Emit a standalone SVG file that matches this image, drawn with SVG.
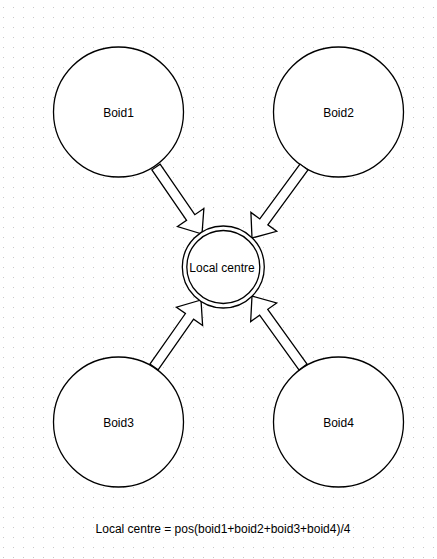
<svg xmlns="http://www.w3.org/2000/svg" width="437" height="559" viewBox="0 0 437 559">
<style>
.node{fill:#fff;stroke:#000;stroke-width:1.3}
.arrow{fill:#fff;stroke:#000;stroke-width:1.3;stroke-linejoin:miter}
.lbl{font-family:"Liberation Sans",Arial,sans-serif;font-size:12px;fill:#000;text-anchor:middle}
</style>
<defs>
<pattern id="grid" x="3" y="7" width="10" height="10" patternUnits="userSpaceOnUse">
<rect x="0" y="0" width="1" height="1" fill="#c8c8c8"/>
</pattern>
</defs>
<rect width="437" height="559" fill="#fff"/>
<rect width="437" height="559" fill="url(#grid)"/>
<g id="boid1"><circle class="node" cx="118.5" cy="112" r="65"/><text class="lbl" x="118.5" y="116.5">Boid1</text></g>
<g id="boid2"><circle class="node" cx="338.5" cy="112" r="65"/><text class="lbl" x="338.5" y="116.5">Boid2</text></g>
<g id="boid3"><circle class="node" cx="118.5" cy="422" r="65"/><text class="lbl" x="118.5" y="426.5">Boid3</text></g>
<g id="boid4"><circle class="node" cx="338.5" cy="422" r="65"/><text class="lbl" x="338.5" y="426.5">Boid4</text></g>
<g id="connectors">
<polygon class="arrow" points="160.12,164.17 194.80,214.68 203.87,208.45 202,234 177.49,226.57 186.56,220.34 151.88,169.83"/>
<polygon class="arrow" points="308.03,169.95 267.85,224.81 276.73,231.31 252,238 250.91,212.41 259.79,218.91 299.97,164.05"/>
<polygon class="arrow" points="158.09,369.87 193.60,319.24 202.61,325.56 201,300 176.41,307.18 185.42,313.50 149.91,364.13"/>
<polygon class="arrow" points="307.06,364.08 267.73,309.32 276.67,302.91 252,296 250.67,321.57 259.61,315.16 298.94,369.92"/>
</g>
<g id="local-centre">
<circle class="node" cx="223.3" cy="267" r="41"/>
<circle class="node" cx="223.3" cy="267" r="36.5" style="fill:none"/>
<text class="lbl" x="222" y="271.5">Local centre</text>
</g>
<g id="formula"><text class="lbl" x="223" y="532.5">Local centre = pos(boid1+boid2+boid3+boid4)/4</text></g>
</svg>
